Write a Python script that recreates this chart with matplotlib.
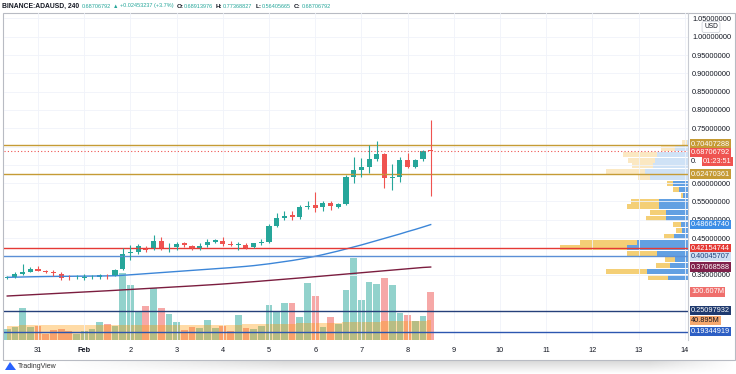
import numpy as np
import matplotlib
matplotlib.use("Agg")
import matplotlib.pyplot as plt
import matplotlib.transforms as mtransforms
from matplotlib.patches import Rectangle, Polygon

plt.rcParams['font.family'] = ['Liberation Sans', 'DejaVu Sans']

# 4h candles, index 0 = Jan 31 00:00 (first candle Jan 30 08:00, last Feb 8 12:00)
idx = np.arange(-4, 52)
opens = [0.342, 0.343, 0.351, 0.358, 0.365, 0.360, 0.356, 0.352, 0.345, 0.343, 0.342, 0.343, 0.344, 0.346,
         0.347, 0.364, 0.410, 0.411, 0.424, 0.419, 0.442, 0.422, 0.425, 0.436, 0.428, 0.419, 0.431, 0.440,
         0.443, 0.433, 0.431, 0.431, 0.4246, 0.4355, 0.438, 0.483, 0.505, 0.513, 0.508, 0.535, 0.540, 0.534,
         0.5465, 0.5347, 0.543, 0.6175, 0.636, 0.643, 0.665, 0.679, 0.614, 0.617, 0.663, 0.645, 0.665, 0.68913976]
highs = [0.346, 0.357, 0.378, 0.371, 0.374, 0.362, 0.362, 0.358, 0.350, 0.350, 0.351, 0.350, 0.352, 0.353,
         0.366, 0.423, 0.431, 0.433, 0.427, 0.458, 0.452, 0.435, 0.440, 0.440, 0.430, 0.436, 0.448, 0.448,
         0.452, 0.442, 0.440, 0.436, 0.437, 0.446, 0.487, 0.517, 0.524, 0.523, 0.540, 0.550, 0.576, 0.551,
         0.551, 0.547, 0.622, 0.672, 0.668, 0.704, 0.715, 0.683, 0.652, 0.672, 0.683, 0.667, 0.691, 0.77368827]
lows = [0.339, 0.341, 0.349, 0.356, 0.359, 0.354, 0.347, 0.335, 0.336, 0.337, 0.335, 0.338, 0.339, 0.339,
        0.345, 0.362, 0.390, 0.405, 0.411, 0.417, 0.418, 0.413, 0.418, 0.426, 0.416, 0.416, 0.425, 0.437,
        0.428, 0.428, 0.418, 0.420, 0.422, 0.432, 0.437, 0.479, 0.498, 0.498, 0.502, 0.530, 0.522, 0.525,
        0.527, 0.532, 0.541, 0.600, 0.617, 0.628, 0.660, 0.5875, 0.581, 0.604, 0.640, 0.640, 0.660, 0.56405665]
closes = [0.343, 0.351, 0.358, 0.365, 0.361, 0.356, 0.355, 0.340, 0.344, 0.344, 0.343, 0.344, 0.349, 0.345,
          0.363, 0.406, 0.412, 0.428, 0.418, 0.442, 0.422, 0.424, 0.434, 0.431, 0.419, 0.429, 0.440, 0.4445,
          0.433, 0.432, 0.432, 0.4235, 0.4355, 0.440, 0.483, 0.504, 0.511, 0.508, 0.5355, 0.536, 0.533, 0.5465,
          0.5374, 0.543, 0.6175, 0.636, 0.643, 0.665, 0.679, 0.613, 0.616, 0.663, 0.645, 0.663, 0.6885, 0.68706792]
volumes = [22, 27, 66, 27, 29, 12, 20, 22, 19, 13, 19, 24, 38, 34, 29, 141, 115, 61, 71, 108, 68, 55, 38, 20,
           27, 26, 41, 26, 29, 19, 52, 26, 22, 29, 73, 59, 78, 78, 48, 120, 92, 27, 49, 34, 104, 171, 83, 122,
           117, 129, 115, 57, 52, 40, 50, 100.607]
vol_ma = [30, 30, 31, 31, 31, 31, 31, 31, 31, 31, 31, 31, 31, 31, 31, 32, 32, 32, 32, 32, 32, 32, 32, 32,
          32, 32, 32, 32, 32, 32, 32, 33, 33, 33, 33, 34, 34, 34, 35, 35, 35, 36, 36, 36, 37, 37, 38, 38,
          38, 39, 39, 39.5, 40, 40.3, 40.6, 40.895]
ma_blue = [0.3426, 0.343, 0.3435, 0.344, 0.3444, 0.3447, 0.345, 0.3452, 0.3454, 0.3456, 0.3458, 0.346, 0.3462,
           0.3465, 0.3468, 0.348, 0.3495, 0.351, 0.3525, 0.354, 0.3555, 0.357, 0.3585, 0.360, 0.3615, 0.363,
           0.3645, 0.366, 0.3675, 0.369, 0.3708, 0.3725, 0.3745, 0.377, 0.3795, 0.3825, 0.3855, 0.3885, 0.392,
           0.396, 0.400, 0.4045, 0.4095, 0.4145, 0.420, 0.4255, 0.431, 0.437, 0.443, 0.449, 0.455, 0.461,
           0.4675, 0.4735, 0.480, 0.4866474]
ma_maroon = [0.2915, 0.2926, 0.2937, 0.2948, 0.2959, 0.297, 0.2981, 0.2992, 0.3003, 0.3014, 0.3025, 0.3036,
             0.3047, 0.3058, 0.307, 0.3082, 0.3094, 0.3106, 0.3118, 0.313, 0.3142, 0.3154, 0.3166, 0.3178,
             0.319, 0.3203, 0.3216, 0.3229, 0.3243, 0.3258, 0.3274, 0.329, 0.3306, 0.3323, 0.334, 0.3357,
             0.3374, 0.3391, 0.3408, 0.3425, 0.3443, 0.3461, 0.3479, 0.3497, 0.3515, 0.3533, 0.3551, 0.3569,
             0.3587, 0.3605, 0.3623, 0.3641, 0.3659, 0.3677, 0.3695, 0.37068588]

# visible range volume profile (row centre price, up / down volume)
prof_price = [0.343, 0.359, 0.375, 0.391, 0.407, 0.423, 0.439, 0.455, 0.471, 0.487, 0.503, 0.519,
              0.535, 0.551, 0.567, 0.583, 0.599, 0.615, 0.631, 0.647, 0.663, 0.679, 0.695, 0.711]
prof_up = [40, 82, 37, 27, 63, 123, 102, 29, 13, 15, 45, 45, 58, 58, 10, 18, 30, 77, 87, 70, 67, 63, 27, 3]
prof_down = [41, 83, 27, 20, 60, 133, 115, 20, 11, 15, 40, 32, 65, 57, 5, 12, 13, 23, 77, 43, 53, 67, 27, 10]
value_area_top = 0.607

day_ticks = np.arange(0, 85, 6)
day_labels = ['31', 'Feb', '2', '3', '4', '5', '6', '7', '8', '9', '10', '11', '12', '13', '14']
price_ticks = np.arange(0.35, 1.051, 0.05)
hidden_ticks = [0.40, 0.65, 0.70]   # covered by the coloured price labels

levels = [(0.70407288, '#c59b35', '#c59b35', 'white'),
          (0.62470361, '#c59b35', '#c59b35', 'white'),
          (0.42154744, '#e53935', '#e53935', 'white'),
          (0.40045707, '#5b8fd6', '#cfdff3', '#1e3f7a'),
          (0.25097932, '#25407a', '#1f3a6e', 'white'),
          (0.19344919, '#2c56b0', '#2d5fc4', 'white')]
last_price = 0.68706792

W, H = 736, 374
fig = plt.figure(figsize=(W / 100, H / 100), dpi=100)
left, right, top, bottom = 4, 688, 13, 340
rect = [left / W, 1 - bottom / H, (right - left) / W, (bottom - top) / H]
xlim = (-4.42, 84.42)
ylim = (0.1713, 1.0648)


def py(pix):
    # price at a given pixel row of the price pane
    return ylim[1] - (pix - top) / (bottom - top) * (ylim[1] - ylim[0])


# soft shadow under the chart frame
ax_sh = fig.add_axes([60 / W, 0, 676 / W, 14 / H], zorder=0)
gx = np.linspace(0, 1, 200)
gy = np.linspace(1, 0, 20)
shade = np.clip(np.outer(gy, np.minimum(gx * 3, 1) * np.minimum((1 - gx) * 8, 1)), 0, 1)
rgba = np.zeros((20, 200, 4))
rgba[..., :3] = 0.55
rgba[..., 3] = shade * 0.35
ax_sh.imshow(rgba, aspect='auto', interpolation='bilinear')
ax_sh.axis('off')

# volume pane (bottom layer)
ax_vol = fig.add_axes(rect, zorder=1)
up = np.array(closes) >= np.array(opens)
bar_cols = np.where(up, '#26a69a', '#ef5350')
ax_vol.bar(idx, volumes, width=0.88, color=bar_cols, alpha=0.5, linewidth=0)
ax_vol.fill_between(idx, 0, vol_ma, step='mid', color='#ff9800', alpha=0.35, linewidth=0)
ax_vol.set_xlim(xlim)
ax_vol.set_ylim(0, 685)
ax_vol.axis('off')

# volume profile
prof_rect = [560 / W, rect[1], 128 / W, rect[3]]
ax_prof = fig.add_axes(prof_rect, zorder=2)
ax_prof.patch.set_visible(False)
pale = np.array(prof_price) > value_area_top
up_cols = np.where(pale, '#cfe2f6', '#62a0e2')
dn_cols = np.where(pale, '#fbe8c2', '#f4cf76')
ax_prof.barh(prof_price, prof_up, height=0.0138, color=up_cols, linewidth=0)
ax_prof.barh(prof_price, prof_down, left=prof_up, height=0.0138, color=dn_cols, linewidth=0)
ax_prof.set_xlim(256, 0)
ax_prof.set_ylim(ylim)
ax_prof.axis('off')

# price pane
ax = fig.add_axes(rect, zorder=3)
ax.patch.set_visible(False)
for p in price_ticks:
    ax.axhline(p, color='#f0f3fa', lw=0.6, zorder=0)
for d in day_ticks:
    ax.axvline(d, color='#f0f3fa', lw=0.6, zorder=0)

ax.plot(idx, ma_maroon, color='#7b1d3f', lw=1.0)
ax.plot(idx, ma_blue, color='#3c86d8', lw=1.0)
for p, lc, bc, tc in levels:
    ax.axhline(p, color=lc, lw=1.0)
ax.axhline(last_price, color='#ef5350', lw=0.8, ls=(0, (1, 2)))

cols = np.where(up, '#26a69a', '#ef5350')
ax.vlines(idx, lows, highs, colors=cols, lw=0.8)
body_lo = np.minimum(opens, closes)
body_h = np.maximum(np.abs(np.array(closes) - np.array(opens)), 0.0015)
ax.bar(idx, body_h, bottom=body_lo, width=0.66, color=cols, linewidth=0)

ax.set_xlim(xlim)
ax.set_ylim(ylim)
ax.set_xticks(day_ticks)
ax.set_xticklabels(day_labels)
ax.get_xticklabels()[1].set_fontweight('bold')
ax.yaxis.tick_right()
ax.set_yticks(price_ticks)
ax.set_yticklabels(['' if min(abs(p - h) for h in hidden_ticks) < 1e-6 else '%.8f' % p
                    for p in price_ticks])
ax.tick_params(axis='y', length=0, pad=3, labelsize=5.3, labelcolor='#131722')
ax.tick_params(axis='x', length=0, pad=5, labelsize=5.3, labelcolor='#131722')
for s in ['left', 'top', 'bottom']:
    ax.spines[s].set_visible(False)
ax.spines['right'].set_color('#c8cbd2')
ax.spines['right'].set_linewidth(0.8)

# right-side price labels (nudged apart like the platform does)
tr_p = mtransforms.blended_transform_factory(fig.transFigure, ax.transData)
tr_v = mtransforms.blended_transform_factory(fig.transFigure, ax_vol.transData)
lx = 691 / W
box = dict(boxstyle='square,pad=0.15', ec='none')


def price_label(y, s, fc, tc='white', x=lx):
    ax.text(x, y, s, transform=tr_p, fontsize=5.3, color=tc, va='center', ha='left',
            bbox=dict(box, fc=fc), zorder=5, clip_on=False)


label_rows = {0.70407288: 144.0, 0.62470361: 174.0}
for p, lc, bc, tc in levels:
    y = py(label_rows[p]) if p in label_rows else p
    price_label(y, '%.8f' % p, bc, tc)
price_label(py(152.8), '%.8f' % last_price, '#ef5350')
price_label(py(161.5), '0.', 'white', '#131722')
price_label(py(161.5), '01:23:51', '#ef5350', x=703 / W)
price_label(ma_blue[-1], '%.8f' % ma_blue[-1], '#3d8ee6')
price_label(ma_maroon[-1], '%.8f' % ma_maroon[-1], '#80204a')
ax_vol.text(lx, volumes[-1], '%.3fM' % volumes[-1], transform=tr_v, fontsize=5.3, color='white',
            va='center', ha='left', bbox=dict(box, fc='#ef6f6c'), zorder=5, clip_on=False)
ax_vol.text(lx, vol_ma[-1], '%.3fM' % vol_ma[-1], transform=tr_v, fontsize=5.3, color='#131722',
            va='center', ha='left', bbox=dict(box, fc='#f6a86e'), zorder=5, clip_on=False)
fig.text(711 / W, 1 - 27 / H, 'USD', fontsize=4.8, color='#131722', va='center', ha='center',
         bbox=dict(boxstyle='round,pad=0.3', fc='white', ec='#d1d4dc', lw=0.6), zorder=10)

# frame
fig.patches.append(Rectangle((3 / W, 1 - 360 / H), 732 / W, 347 / H, transform=fig.transFigure,
                             fill=False, ec='#b8bbc3', lw=0.8))

# header, laid out piece by piece
hy = 1 - 6 / H
teal = '#26a69a'
dark = '#131722'
pieces = [('BINANCE:ADAUSD, 240', dark, 'bold', 4.9, 2.5), ('0.68706792', teal, 'normal', 4.0, 2),
          ('\u25b2', teal, 'normal', 4.0, 1.5), ('+0.02453237 (+3.7%)', teal, 'normal', 4.0, 3),
          ('O:', dark, 'bold', 4.6, 0.5), ('0.68913976', teal, 'normal', 4.0, 3),
          ('H:', dark, 'bold', 4.6, 0.5), ('0.77368827', teal, 'normal', 4.0, 3),
          ('L:', dark, 'bold', 4.6, 0.5), ('0.56405665', teal, 'normal', 4.0, 3),
          ('C:', dark, 'bold', 4.6, 0.5), ('0.68706792', teal, 'normal', 4.0, 0)]
renderer = fig.canvas.get_renderer()
x = 2.0
for s, c, w, fs, gap in pieces:
    t = fig.text(x / W, hy, s, fontsize=fs, color=c, fontweight=w, va='center', ha='left',
                 family=['Liberation Sans', 'DejaVu Sans'])
    x += t.get_window_extent(renderer).width + gap

# logo
fig.patches.append(Polygon([(5 / W, 1 - 370 / H), (10 / W, 1 - 362 / H), (13 / W, 1 - 366 / H),
                            (16 / W, 1 - 370 / H)], closed=True, transform=fig.transFigure,
                           fc='#2962ff', ec='none'))
fig.text(18 / W, 1 - 366 / H, 'TradingView', fontsize=5, color='#333333', va='center', ha='left')

fig.savefig('out.png', dpi=100)
